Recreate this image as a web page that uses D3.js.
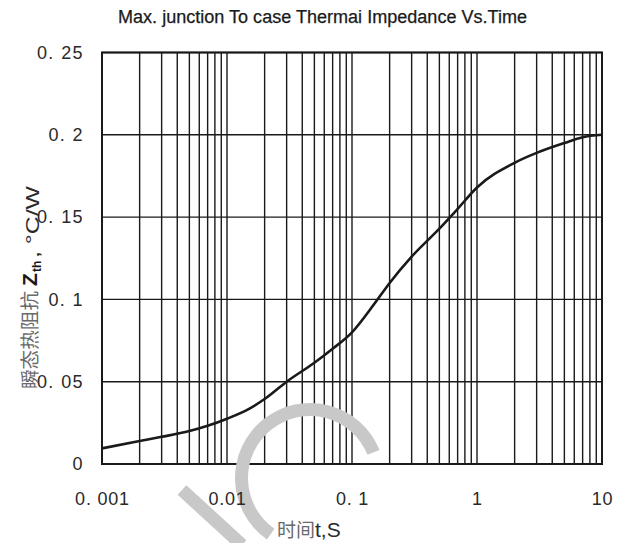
<!DOCTYPE html>
<html>
<head>
<meta charset="utf-8">
<script src="https://cdn.jsdelivr.net/npm/d3@7/dist/d3.min.js"></script>
<style>
  html, body { margin: 0; padding: 0; background: #fff; }
  svg { display: block; }
</style>
</head>
<body>
<svg id="chart" width="623" height="543"></svg>
<script>
// Transient thermal impedance (junction to case) vs. pulse time
const timeS = [0.001, 0.002, 0.003, 0.005, 0.007, 0.01, 0.015, 0.02, 0.03, 0.05, 0.07, 0.1,
               0.15, 0.2, 0.3, 0.5, 0.7, 1, 2, 3, 5, 7, 10];
const zthCW = [0.0095, 0.014, 0.0165, 0.020, 0.0232, 0.0275, 0.0335, 0.0395, 0.050, 0.0615, 0.070, 0.080,
               0.097, 0.110, 0.126, 0.143, 0.155, 0.168, 0.183, 0.189, 0.195, 0.1985, 0.200];

const xTickValues = [0.001, 0.01, 0.1, 1, 10];
const xTickLabels = ["0. 001", "0.01", "0. 1", "1", "10"];
const yTickValues = [0, 0.05, 0.1, 0.15, 0.2, 0.25];
const yTickLabels = ["0", "0. 05", "0. 1", "0. 15", "0. 2", "0. 25"];

const titleText = "Max. junction To case Thermai Impedance Vs.Time";

const svg = d3.select("#chart");
const plot = { left: 102, right: 602, top: 52.5, bottom: 464 };

const x = d3.scaleLog().domain([0.001, 10]).range([plot.left, plot.right]);
const y = d3.scaleLinear().domain([0, 0.25]).range([plot.bottom, plot.top]);

// vertical grid lines at 1..9 of every decade
const vLines = [];
for (let e = -3; e < 1; e++) {
  for (let k = 1; k <= 9; k++) vLines.push(k * Math.pow(10, e));
}
vLines.push(10);

const grid = svg.append("g").attr("stroke", "#1a1a1a").attr("stroke-width", 1.4);
grid.selectAll("line.v").data(vLines).join("line")
  .attr("class", "v")
  .attr("x1", d => x(d)).attr("x2", d => x(d))
  .attr("y1", plot.top).attr("y2", plot.bottom);
grid.selectAll("line.h").data(yTickValues).join("line")
  .attr("class", "h")
  .attr("x1", plot.left).attr("x2", plot.right)
  .attr("y1", d => y(d)).attr("y2", d => y(d));

// frame
svg.append("rect")
  .attr("x", plot.left).attr("y", plot.top)
  .attr("width", plot.right - plot.left).attr("height", plot.bottom - plot.top)
  .attr("fill", "none").attr("stroke", "#1a1a1a").attr("stroke-width", 2);

// curve
const line = d3.line()
  .x((d, i) => x(timeS[i]))
  .y(d => y(d))
  .curve(d3.curveMonotoneX);
svg.append("path")
  .attr("d", line(zthCW))
  .attr("fill", "none")
  .attr("stroke", "#1a1a1a")
  .attr("stroke-width", 2.6);

// faint watermark strokes
const wm = svg.append("g").attr("fill", "#c8c8c8");
wm.append("line")
  .attr("x1", 182).attr("y1", 490).attr("x2", 242).attr("y2", 545)
  .attr("stroke", "#c8c8c8").attr("stroke-width", 13);
wm.append("path")
  .attr("transform", "translate(310,478)")
  .attr("d", d3.arc().innerRadius(62).outerRadius(75)
    .startAngle(-145 * Math.PI / 180).endAngle(68 * Math.PI / 180)());

// axes (labels only; the grid carries the ticks)
const labelFont = "'Liberation Sans', Arial, sans-serif";
const yAxis = d3.axisLeft(y).tickValues(yTickValues)
  .tickFormat((d, i) => yTickLabels[i]).tickSize(0).tickPadding(0);
const yg = svg.append("g").attr("transform", "translate(84,0)").call(yAxis);
yg.select(".domain").remove();
yg.selectAll("text").attr("font-family", labelFont)
  .attr("font-size", 18).attr("letter-spacing", 1.4).attr("fill", "#2a2a2a");

const xAxis = d3.axisBottom(x).tickValues(xTickValues)
  .tickFormat((d, i) => xTickLabels[i]).tickSize(0).tickPadding(0);
const xg = svg.append("g").attr("transform", "translate(0,492)").call(xAxis);
xg.select(".domain").remove();
xg.selectAll("text").attr("font-family", labelFont)
  .attr("font-size", 18).attr("letter-spacing", 0.8).attr("fill", "#2a2a2a");

// title
svg.append("text")
  .attr("x", 118).attr("y", 23)
  .attr("textLength", 409).attr("lengthAdjust", "spacingAndGlyphs")
  .attr("font-family", labelFont)
  .attr("font-size", 18).attr("fill", "#1a1a1a")
  .attr("stroke", "#1a1a1a").attr("stroke-width", 0.25)
  .text(titleText);

// y axis title, rotated to read bottom-to-top
const yt = svg.append("g")
  .attr("transform", "translate(37,0) rotate(-90)");
yt.append("text")
  .attr("x", -389).attr("y", 0)
  .attr("textLength", 98).attr("lengthAdjust", "spacingAndGlyphs")
  .attr("font-family", "'Noto Sans CJK SC', sans-serif")
  .attr("font-size", 19).attr("fill", "#6a6a6a")
  .text("瞬态热阻抗");
yt.append("text")
  .attr("x", -286).attr("y", 0)
  .attr("font-family", labelFont).attr("font-weight", "bold")
  .attr("font-size", 21).attr("fill", "#1a1a1a")
  .text("Z");
yt.append("text")
  .attr("x", -272).attr("y", 4)
  .attr("font-family", labelFont).attr("font-weight", "bold")
  .attr("font-size", 12).attr("fill", "#1a1a1a")
  .text("th");
yt.append("text")
  .attr("x", -258).attr("y", 2)
  .attr("textLength", 72).attr("lengthAdjust", "spacingAndGlyphs")
  .attr("font-family", labelFont)
  .attr("font-size", 18).attr("fill", "#2a2a2a")
  .text(", °C/W");

// x axis title
svg.append("text")
  .attr("x", 277).attr("y", 537)
  .attr("font-family", "'Noto Sans CJK SC', sans-serif")
  .attr("font-size", 19).attr("fill", "#6a6a6a")
  .text("时间");
svg.append("text")
  .attr("x", 315).attr("y", 537)
  .attr("font-family", labelFont)
  .attr("font-size", 21).attr("fill", "#2a2a2a")
  .text("t,S");
</script>
</body>
</html>
